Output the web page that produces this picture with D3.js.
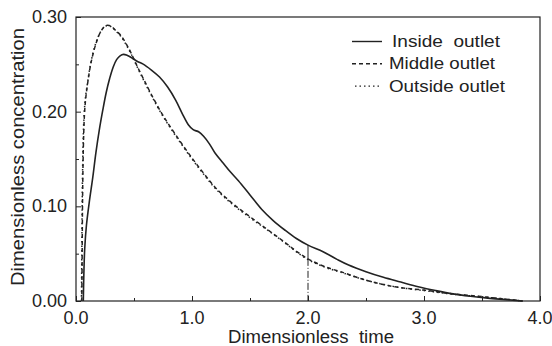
<!DOCTYPE html>
<html>
<head>
<meta charset="utf-8">
<script src="https://cdn.jsdelivr.net/npm/d3@7"></script>
<style>
  html, body { margin: 0; padding: 0; background: #fff; }
  svg text { font-family: "Liberation Sans", Arial, sans-serif; fill: #222; }
</style>
</head>
<body>
<svg id="chart" width="552" height="346"></svg>
<script>
// 曲线数据
const insideTime = [0.063, 0.068, 0.075, 0.09, 0.115, 0.144, 0.172, 0.2, 0.23, 0.26, 0.29, 0.32, 0.35, 0.38, 0.41, 0.44, 0.48, 0.53, 0.575, 0.65, 0.72, 0.79, 0.86, 0.92, 0.97, 1.01, 1.06, 1.1, 1.15, 1.2, 1.27, 1.33, 1.4, 1.5, 1.6, 1.7, 1.8, 1.9, 2.0, 2.13, 2.25, 2.35, 2.5, 2.65, 2.8, 2.95, 3.1, 3.25, 3.4, 3.55, 3.7, 3.85];
const insideConc = [0, 0.03, 0.055, 0.08, 0.105, 0.13, 0.157, 0.18, 0.201, 0.22, 0.235, 0.247, 0.255, 0.259, 0.2605, 0.2595, 0.257, 0.253, 0.2505, 0.244, 0.2366, 0.226, 0.212, 0.197, 0.186, 0.181, 0.1785, 0.174, 0.166, 0.156, 0.1455, 0.1365, 0.127, 0.112, 0.097, 0.085, 0.075, 0.066, 0.059, 0.052, 0.044, 0.038, 0.031, 0.025, 0.02, 0.015, 0.011, 0.0075, 0.005, 0.003, 0.0015, 0];

const middleTime = [0.05, 0.053, 0.056, 0.06, 0.065, 0.072, 0.082, 0.1, 0.13, 0.172, 0.215, 0.259, 0.3, 0.345, 0.39, 0.431, 0.475, 0.517, 0.58, 0.661, 0.75, 0.862, 1.0, 1.1, 1.2, 1.35, 1.5, 1.65, 1.8, 1.9, 2.0, 2.15, 2.28, 2.5, 2.75, 3.0, 3.25, 3.5, 3.7, 3.85];
const middleConc = [0, 0.05, 0.1, 0.14, 0.17, 0.195, 0.212, 0.2296, 0.252, 0.2718, 0.285, 0.291, 0.2905, 0.2855, 0.28, 0.272, 0.262, 0.2507, 0.235, 0.2155, 0.196, 0.175, 0.151, 0.135, 0.12, 0.103, 0.089, 0.0755, 0.062, 0.0525, 0.0445, 0.036, 0.031, 0.022, 0.015, 0.0115, 0.0075, 0.0046, 0.002, 0];

const outsideTime = [0.047, 0.05, 0.053, 0.057, 0.062, 0.069, 0.08, 0.1, 0.13, 0.17, 0.215, 0.255, 0.3, 0.345, 0.39, 0.431, 0.475, 0.517, 0.58, 0.661, 0.75, 0.862, 1.0, 1.1, 1.2, 1.35, 1.5, 1.65, 1.8, 1.9, 2.0, 2.15, 2.28, 2.5, 2.75, 3.0, 3.25, 3.5, 3.7, 3.85];
const outsideConc = [0, 0.05, 0.1, 0.14, 0.17, 0.195, 0.213, 0.231, 0.253, 0.272, 0.285, 0.2905, 0.29, 0.285, 0.279, 0.271, 0.261, 0.25, 0.234, 0.2145, 0.195, 0.174, 0.15, 0.134, 0.119, 0.102, 0.088, 0.075, 0.0615, 0.052, 0.0438, 0.0355, 0.0305, 0.022, 0.015, 0.011, 0.0072, 0.0044, 0.002, 0];

const xTicks = [0, 1, 2, 3, 4];
const yTicks = [0, 0.1, 0.2, 0.3];
const legendNames = ['Inside  outlet', 'Middle outlet', 'Outside outlet'];
const markerTime = [2.0];

const svg = d3.select('#chart');
const x = d3.scaleLinear().domain([0, 4]).range([76, 540]);
const y = d3.scaleLinear().domain([0, 0.3]).range([301, 17]);
const ink = '#222';

// 外框
svg.append('rect')
    .attr('x', x(0)).attr('y', y(0.3))
    .attr('width', x(4) - x(0)).attr('height', y(0) - y(0.3))
    .attr('fill', 'none').attr('stroke', ink).attr('stroke-width', 1.2);

// 坐标轴（刻度朝内）
const xMajor = d3.axisBottom(x).tickValues(xTicks).tickSize(-5).tickFormat('');
const xMinor = d3.axisBottom(x).tickValues(d3.range(0.5, 4, 1)).tickSize(-3).tickFormat('');
const yMajor = d3.axisLeft(y).tickValues(yTicks).tickSize(-5).tickFormat('');
const yMinor = d3.axisLeft(y).tickValues(d3.range(0.05, 0.3, 0.1)).tickSize(-3).tickFormat('');
[[xMajor, 'x'], [xMinor, 'x'], [yMajor, 'y'], [yMinor, 'y']].forEach(([ax, k]) => {
    const g = svg.append('g')
        .attr('transform', k === 'x' ? `translate(0,${y(0)})` : `translate(${x(0)},0)`)
        .call(ax);
    g.select('.domain').remove();
    g.selectAll('line').attr('stroke', ink).attr('stroke-width', 1);
});

// 刻度文字
svg.selectAll('.xlab').data(xTicks).enter().append('text')
    .attr('class', 'xlab')
    .attr('x', d => x(d)).attr('y', 324)
    .attr('text-anchor', 'middle')
    .style('font-size', '18px')
    .text(d => d.toFixed(1));
svg.selectAll('.ylab').data(yTicks).enter().append('text')
    .attr('class', 'ylab')
    .attr('x', 67).attr('y', d => y(d) + 6)
    .attr('text-anchor', 'end')
    .style('font-size', '18px')
    .text(d => d.toFixed(2));

// 轴标题
svg.append('text')
    .attr('x', 311).attr('y', 343)
    .attr('text-anchor', 'middle')
    .style('font-size', '18px')
    .attr('xml:space', 'preserve')
    .attr('textLength', 166)
    .attr('lengthAdjust', 'spacingAndGlyphs')
    .text('Dimensionless  time');
svg.append('text')
    .attr('transform', 'translate(24,157) rotate(-90)')
    .attr('text-anchor', 'middle')
    .style('font-size', '18px')
    .attr('textLength', 258)
    .attr('lengthAdjust', 'spacingAndGlyphs')
    .text('Dimensionless concentration');

// 曲线
const line = d3.line().x(d => x(d[0])).y(d => y(d[1])).curve(d3.curveCatmullRom.alpha(0.5));
const series = [
    { t: insideTime, c: insideConc, dash: null, w: 1.6 },
    { t: middleTime, c: middleConc, dash: '4,3', w: 1.5 },
    { t: outsideTime, c: outsideConc, dash: '1.5,3', w: 1.5 },
];
series.forEach(s => {
    svg.append('path')
        .datum(d3.zip(s.t, s.c))
        .attr('d', line)
        .attr('fill', 'none')
        .attr('stroke', ink)
        .attr('stroke-width', s.w)
        .attr('stroke-dasharray', s.dash);
});

// t=2.0 处的竖线
const mIdx = insideTime.indexOf(markerTime[0]);
const dIdx = middleTime.indexOf(markerTime[0]);
svg.append('line')
    .attr('x1', x(markerTime[0])).attr('x2', x(markerTime[0]))
    .attr('y1', y(insideConc[mIdx])).attr('y2', y(middleConc[dIdx]))
    .attr('stroke', ink).attr('stroke-width', 1);
svg.append('line')
    .attr('x1', x(markerTime[0])).attr('x2', x(markerTime[0]))
    .attr('y1', y(middleConc[dIdx])).attr('y2', y(0))
    .attr('stroke', ink).attr('stroke-width', 1)
    .attr('stroke-dasharray', '7,2,1,2');

// 图例
const legendLens = [108, 106, 116];
const legendG = svg.append('g').attr('transform', 'translate(352, 47)');
legendNames.forEach((name, i) => {
    const g = legendG.append('g').attr('transform', `translate(0, ${i * 22.3})`);
    g.append('line')
        .attr('x1', i === 2 ? 3 : 0).attr('x2', 30).attr('y1', -5.5).attr('y2', -5.5)
        .attr('stroke', ink).attr('stroke-width', i === 2 ? 1.2 : 1.4)
        .attr('stroke-dasharray', series[i].dash);
    g.append('text')
        .attr('x', i === 0 ? 40 : 37).attr('y', 0)
        .attr('xml:space', 'preserve')
        .style('font-size', '17px')
        .attr('textLength', legendLens[i])
        .attr('lengthAdjust', 'spacingAndGlyphs')
        .text(name);
});
</script>
</body>
</html>
